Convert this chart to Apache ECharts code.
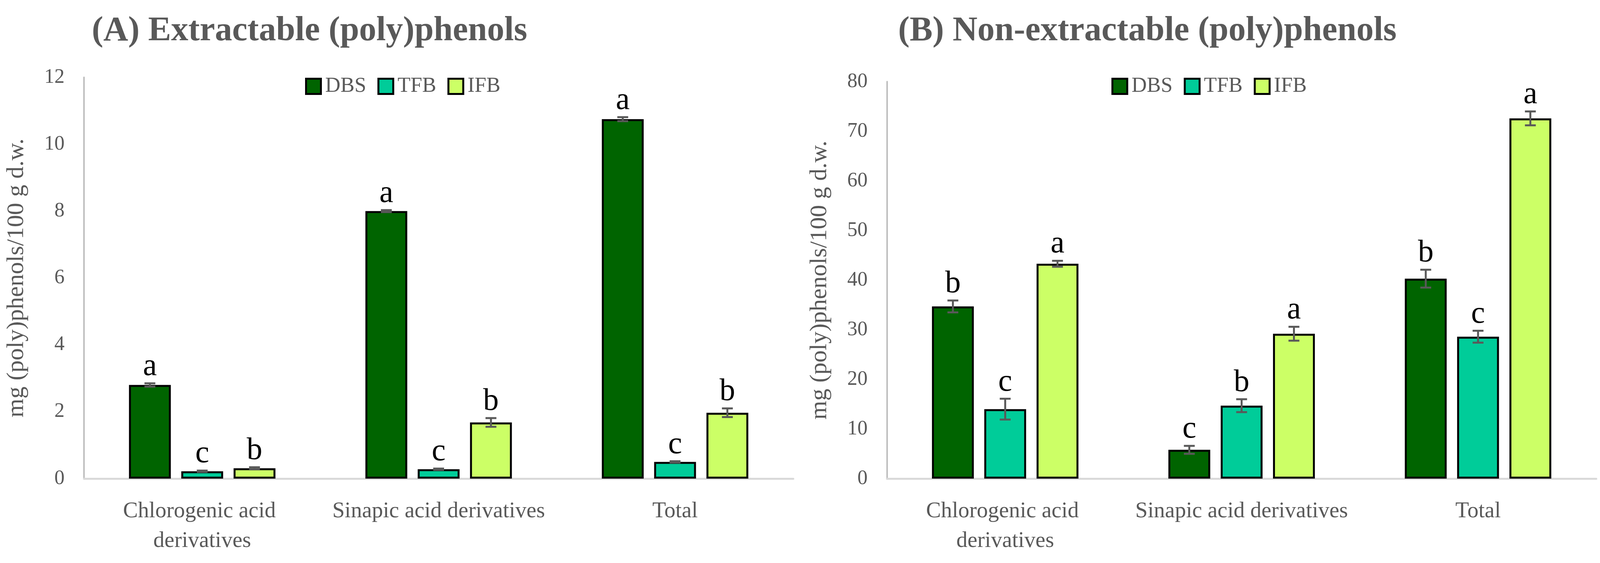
<!DOCTYPE html>
<html>
<head>
<meta charset="utf-8">
<script src="https://cdn.jsdelivr.net/npm/echarts@6/dist/echarts.min.js"></script>
<style>
html,body{margin:0;padding:0;background:#fff;overflow:hidden;}
#chart{width:100vw;height:100vh;}
</style>
</head>
<body>
<div id="chart"></div>
<script>
// ---------- data ----------
const categories = ['Chlorogenic acid derivatives', 'Sinapic acid derivatives', 'Total'];
const groupNames = ['DBS', 'TFB', 'IFB'];

// (A) Extractable
const extDBS = [2.8, 8.0, 10.75];
const extTFB = [0.22, 0.28, 0.5];
const extIFB = [0.31, 1.68, 1.97];
const extDBSErr = [0.05, 0.03, 0.06];
const extTFBErr = [0.02, 0.02, 0.02];
const extIFBErr = [0.03, 0.13, 0.13];
const extDBSLetters = ['a', 'a', 'a'];
const extTFBLetters = ['c', 'c', 'c'];
const extIFBLetters = ['b', 'b', 'b'];

// (B) Non-extractable
const nonDBS = [34.7, 5.8, 40.3];
const nonTFB = [14.0, 14.7, 28.6];
const nonIFB = [43.3, 29.2, 72.6];
const nonDBSErr = [1.2, 0.8, 1.8];
const nonTFBErr = [2.1, 1.3, 1.2];
const nonIFBErr = [0.6, 1.4, 1.4];
const nonDBSLetters = ['b', 'c', 'b'];
const nonTFBLetters = ['c', 'b', 'c'];
const nonIFBLetters = ['a', 'a', 'a'];

const extAxisMax = 12, extAxisStep = 2;
const nonAxisMax = 80, nonAxisStep = 10;

const titleA = '(A) Extractable (poly)phenols';
const titleB = '(B) Non-extractable (poly)phenols';
const yName = 'mg (poly)phenols/100 g d.w.';

// ---------- style / layout ----------
const FONT = 'Liberation Serif';
const GRAY = '#595959';
const COLORS = ['#006400', '#00CC99', '#CCFF66'];
const BAR_W = 0.177;   // fraction of category band
const BAR_GAP = 0.25;  // fraction of bar width

const el = document.getElementById('chart');
const W = el.clientWidth || window.innerWidth;
const H = el.clientHeight || window.innerHeight;
const sx = W / 4286, sy = H / 1441;

const chart = echarts.init(el);

function makeErrSeries(gridIdx, sIdx, vals, errs, letters) {
  return {
    type: 'custom',
    xAxisIndex: gridIdx, yAxisIndex: gridIdx,
    z: 10,
    clip: false,
    silent: true,
    encode: {x: 0, y: 1},
    data: vals.map((v, i) => [i, v, errs[i]]),
    renderItem: function (params, api) {
      const c = api.value(0), v = api.value(1), e = api.value(2);
      const band = api.size([1, 0])[0];
      const bw = band * BAR_W;
      const step = bw * (1 + BAR_GAP);
      const x = api.coord([c, v])[0] + (sIdx - 1) * step;
      const yTop = api.coord([c, v + e])[1];
      const yBot = api.coord([c, v - e])[1];
      const half = bw * 0.13;
      const st = {stroke: GRAY, lineWidth: 5};
      return {
        type: 'group',
        children: [
          {type: 'line', shape: {x1: x, y1: yTop, x2: x, y2: yBot}, style: st},
          {type: 'line', shape: {x1: x - half, y1: yTop, x2: x + half, y2: yTop}, style: st},
          {type: 'line', shape: {x1: x - half, y1: yBot, x2: x + half, y2: yBot}, style: st},
          {type: 'text', style: {
            text: letters[params.dataIndex], x: x, y: yTop - 2 * sy,
            textAlign: 'center', textVerticalAlign: 'bottom',
            fontFamily: FONT, fontSize: 80 * sy, fill: '#000'
          }}
        ]
      };
    }
  };
}

function makeBar(gridIdx, sIdx, vals) {
  return {
    type: 'bar', name: groupNames[sIdx],
    xAxisIndex: gridIdx, yAxisIndex: gridIdx,
    data: vals,
    barWidth: (BAR_W * 100) + '%',
    barGap: (BAR_GAP * 100) + '%',
    itemStyle: {color: COLORS[sIdx], borderColor: '#000', borderWidth: 5},
    emphasis: {disabled: true}
  };
}

function xAxisCfg(gridIdx) {
  return {
    type: 'category', gridIndex: gridIdx, data: categories,
    axisLine: {show: true, lineStyle: {color: '#d9d9d9', width: 5}},
    axisTick: {show: false},
    axisLabel: {
      interval: 0, margin: 46 * sy, width: 600 * sx, overflow: 'break',
      fontFamily: FONT, fontSize: 57, color: GRAY, lineHeight: 76 * sy
    }
  };
}

function yAxisCfg(gridIdx, max, step, gap) {
  return {
    type: 'value', gridIndex: gridIdx, min: 0, max: max, interval: step,
    axisLine: {show: true, lineStyle: {color: '#bfbfbf', width: 4}},
    axisTick: {show: false},
    splitLine: {show: false},
    axisLabel: {fontFamily: FONT, fontSize: 52, color: GRAY, margin: 52 * sx},
    name: yName, nameLocation: 'middle', nameGap: gap,
    nameTextStyle: {fontFamily: FONT, fontSize: 62, color: GRAY}
  };
}

function legendCfg(left) {
  return {
    data: groupNames, left: left, top: 189 * sy, icon: 'rect',
    itemWidth: 38, itemHeight: 39, itemGap: 30 * sx,
    itemStyle: {borderColor: '#000', borderWidth: 5},
    textStyle: {fontFamily: FONT, fontSize: 54, color: GRAY, padding: [0, 0, 0, 6]},
    selectedMode: false
  };
}

const titleStyle = {fontFamily: FONT, fontWeight: 'bold', fontSize: 88, color: GRAY};

const option = {
  backgroundColor: '#fff',
  animation: false,
  title: [
    {text: titleA, left: 246 * sx, top: 36 * sy, padding: 0, textStyle: titleStyle},
    {text: titleB, left: 2406 * sx, top: 36 * sy, padding: 0, textStyle: titleStyle}
  ],
  legend: [legendCfg(812 * sx), legendCfg(2972 * sx)],
  grid: [
    {left: 225 * sx, top: 198 * sy, width: 1900 * sx, height: 1027 * sy},
    {left: 2376 * sx, top: 209 * sy, width: 1900 * sx, height: 1016 * sy}
  ],
  xAxis: [xAxisCfg(0), xAxisCfg(1)],
  yAxis: [yAxisCfg(0, extAxisMax, extAxisStep, 148 * sx), yAxisCfg(1, nonAxisMax, nonAxisStep, 148 * sx)],
  series: [
    makeBar(0, 0, extDBS), makeBar(0, 1, extTFB), makeBar(0, 2, extIFB),
    makeBar(1, 0, nonDBS), makeBar(1, 1, nonTFB), makeBar(1, 2, nonIFB),
    makeErrSeries(0, 0, extDBS, extDBSErr, extDBSLetters),
    makeErrSeries(0, 1, extTFB, extTFBErr, extTFBLetters),
    makeErrSeries(0, 2, extIFB, extIFBErr, extIFBLetters),
    makeErrSeries(1, 0, nonDBS, nonDBSErr, nonDBSLetters),
    makeErrSeries(1, 1, nonTFB, nonTFBErr, nonTFBLetters),
    makeErrSeries(1, 2, nonIFB, nonIFBErr, nonIFBLetters)
  ]
};
chart.setOption(option);
</script>
</body>
</html>
